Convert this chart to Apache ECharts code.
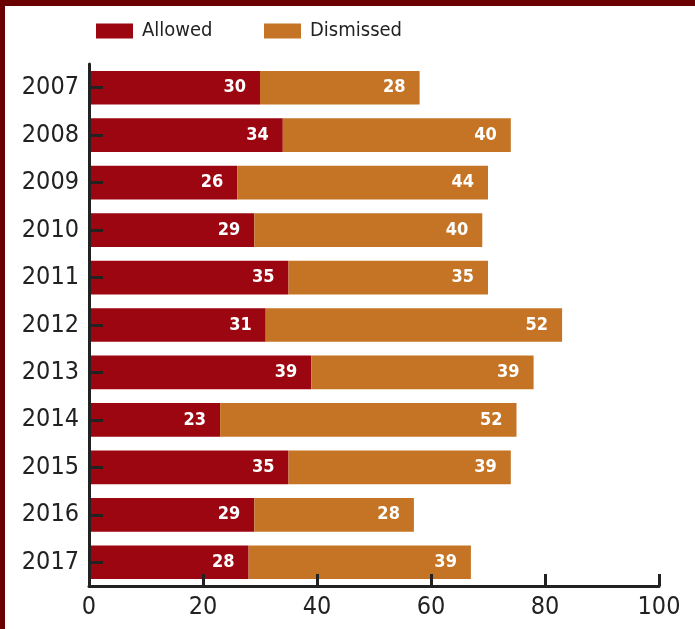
<!DOCTYPE html>
<html><head><meta charset="utf-8">
<script src="https://cdn.jsdelivr.net/npm/echarts@6/dist/echarts.min.js"></script>
<style>
html,body{margin:0;padding:0;background:#fff;}
#frame{position:absolute;left:0;top:0;width:695px;height:629px;box-sizing:border-box;border-left:5px solid #6b0000;border-top:6px solid #6b0000;}
#c{position:absolute;left:0;top:0;width:695px;height:629px;}
</style></head>
<body>
<div id="frame"></div>
<div id="c"></div>
<script>
const years = ['2007','2008','2009','2010','2011','2012','2013','2014','2015','2016','2017'];
const allowed = [30,34,26,29,35,31,39,23,35,29,28];
const dismissed = [28,40,44,40,35,52,39,52,39,28,39];
const xTicks = [0,20,40,60,80,100];

const chart = echarts.init(document.getElementById('c'), null, {renderer:'canvas'});
const font = '"DejaVu Sans Condensed", Roboto, sans-serif';
const lbl = {show:true, position:'insideRight', color:'#fff', fontWeight:'bold', fontSize:18, fontFamily:font, distance:14};
const legendBase = {top:16, itemWidth:37, itemHeight:15, icon:'rect',
  textStyle:{fontSize:20, color:'#222', fontFamily:font, padding:[0,0,0,4]}};
chart.setOption({
  animation:false,
  legend:[
    Object.assign({left:91, data:['Allowed']}, legendBase),
    Object.assign({left:259, data:['Dismissed']}, legendBase)
  ],
  grid:{left:89, right:36, top:64, bottom:43, containLabel:false},
  xAxis:{
    type:'value', min:0, max:100, interval:20, z:5,
    axisLine:{show:true, lineStyle:{color:'#222', width:3}},
    axisTick:{show:true, inside:true, length:12, lineStyle:{color:'#222', width:3}},
    axisLabel:{fontSize:25, color:'#222', fontFamily:font, margin:9,
      formatter:v=>xTicks.includes(v)?String(v):''},
    splitLine:{show:false}
  },
  yAxis:{
    type:'category', data:years, inverse:true, z:5,
    axisLine:{show:true, lineStyle:{color:'#222', width:3}},
    axisTick:{show:true, inside:true, length:14, alignWithLabel:true, lineStyle:{color:'#222', width:3}},
    axisLabel:{fontSize:25, color:'#222', fontFamily:font, margin:10}
  },
  series:[
    {name:'Allowed', type:'bar', stack:'t', data:allowed, barWidth:'71%', itemStyle:{color:'#9b0610'}, label:lbl, z:1},
    {name:'Dismissed', type:'bar', stack:'t', data:dismissed, barWidth:'71%', itemStyle:{color:'#c57425'}, label:lbl, z:1}
  ]
});
</script>
</body></html>
